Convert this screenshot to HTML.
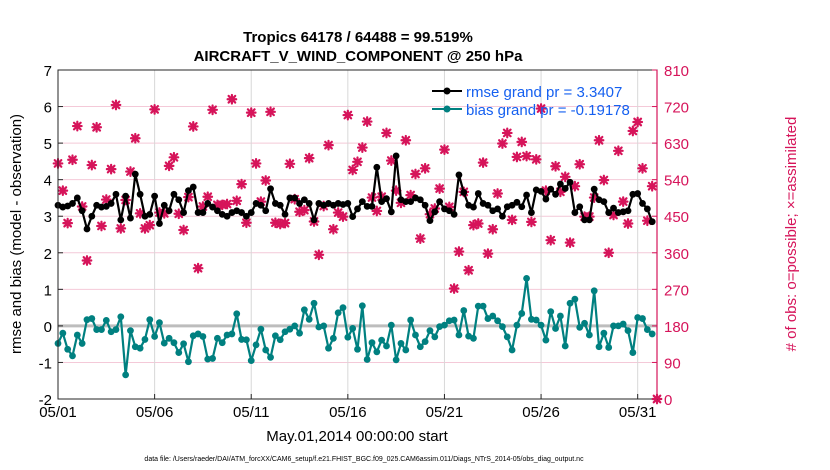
<!DOCTYPE html>
<html><head><meta charset="utf-8"><style>
body{margin:0;background:#fff;font-family:"Liberation Sans",sans-serif}
svg{display:block}
</style></head><body>
<svg id="chart" width="830" height="470" viewBox="0 0 830 470" font-family="Liberation Sans, sans-serif">
<text x="358" y="42" text-anchor="middle" font-size="15" font-weight="bold">Tropics 64178 / 64488 = 99.519%</text>
<text x="358" y="61" text-anchor="middle" font-size="15" font-weight="bold">AIRCRAFT_V_WIND_COMPONENT @ 250 hPa</text>
<g id="grid"></g>
<g id="marks"></g>
<g id="axes"></g>
<text transform="translate(21,234) rotate(-90)" text-anchor="middle" font-size="15">rmse and bias (model - observation)</text>
<text transform="translate(796,234) rotate(-90)" text-anchor="middle" font-size="15" fill="#d6145a"># of obs: o=possible; ×=assimilated</text>
<text x="357" y="441" text-anchor="middle" font-size="15">May.01,2014 00:00:00 start</text>
<text x="364" y="461" text-anchor="middle" font-size="7">data file: /Users/raeder/DAI/ATM_forcXX/CAM6_setup/f.e21.FHIST_BGC.f09_025.CAM6assim.011/Diags_NTrS_2014-05/obs_diag_output.nc</text>
<g>
<line x1="432" y1="91" x2="462" y2="91" stroke="#000" stroke-width="2"/><circle cx="447" cy="91" r="3.5" fill="#000"/>
<text x="466" y="97" font-size="15" fill="#1560f0">rmse grand pr = 3.3407</text>
<line x1="432" y1="109" x2="462" y2="109" stroke="#008080" stroke-width="2"/><circle cx="447" cy="109" r="3.5" fill="#008080"/>
<text x="466" y="115" font-size="15" fill="#1560f0">bias grand pr = -0.19178</text>
</g>
</svg>
<script>
const xTickLabels=["05/01","05/06","05/11","05/16","05/21","05/26","05/31"];
const xTickDays=[0,5,10,15,20,25,30];
const yTicks=[-2,-1,0,1,2,3,4,5,6,7];
const rTicks=[0,90,180,270,360,450,540,630,720,810];
const rmse=[3.3,3.25,3.28,3.35,3.5,3.15,2.65,3.0,3.3,3.25,3.27,3.35,3.6,2.9,3.55,2.95,4.15,3.6,3.0,3.05,
3.55,2.8,3.3,3.15,3.6,3.45,3.1,3.7,3.8,3.1,3.1,3.35,3.25,3.15,3.05,3.0,3.1,3.15,3.1,3.0,
3.1,3.35,3.3,3.15,3.75,3.35,3.3,3.05,3.5,3.5,3.35,3.45,3.35,2.9,3.35,3.3,3.35,3.3,3.35,3.32,
3.35,2.99,3.2,3.4,3.27,3.27,4.34,3.4,3.48,3.12,4.65,3.45,3.4,3.4,3.5,3.45,3.3,2.88,3.12,3.4,
3.2,3.15,3.05,4.13,3.65,3.3,3.25,3.62,3.35,3.3,3.15,3.2,3.0,3.26,
3.3,3.38,3.26,3.58,3.1,3.72,3.68,3.47,3.74,3.6,3.88,3.76,3.93,3.1,3.26,2.9,2.9,3.74,3.45,3.4,
3.1,3.22,3.1,3.12,3.15,3.6,3.62,3.35,3.2,2.85];
const bias=[-0.48,-0.2,-0.64,-0.82,-0.25,-0.48,0.17,0.2,-0.1,-0.1,0.15,-0.16,-0.1,0.25,-1.34,-0.13,-0.57,-0.61,-0.37,0.17,
-0.29,0.09,-0.47,-0.34,-0.46,-0.73,-0.49,-0.98,-0.27,-0.22,-0.29,-0.91,-0.89,-0.34,-0.46,-0.25,-0.22,0.33,-0.37,-0.38,
-0.95,-0.52,-0.09,-0.66,-0.86,-0.27,-0.38,-0.16,-0.09,0.0,-0.2,0.44,0.18,0.62,-0.03,0.0,-0.61,-0.34,0.36,0.5,
-0.31,-0.07,-0.64,0.55,-0.92,-0.46,-0.71,-0.39,-0.55,0.02,-0.93,-0.48,-0.66,0.16,-0.25,-0.57,-0.43,-0.13,-0.30,-0.02,
0.02,0.14,0.16,-0.25,0.42,-0.28,-0.34,0.54,0.54,0.2,0.27,0.14,-0.02,-0.3,
-0.66,0.02,0.34,1.3,0.18,0.16,0.02,-0.39,0.39,-0.07,0.27,-0.55,0.62,0.73,-0.04,0.07,-0.25,0.96,-0.57,-0.2,
-0.59,0.0,0.0,0.05,-0.13,-0.73,0.23,0.2,-0.1,-0.22];
const obsCount=[580,513,433,589,672,474,341,576,669,426,491,566,724,420,490,560,642,457,420,428,
713,459,457,574,595,456,416,497,671,322,474,498,712,478,478,480,738,488,529,434,
705,580,486,538,707,434,431,433,579,492,461,465,593,437,355,475,625,418,459,449,
699,564,584,619,683,496,463,498,655,587,513,483,637,502,554,395,568,455,469,518,
614,473,272,363,510,317,428,432,582,358,418,506,629,655,
441,596,633,598,436,590,715,513,391,573,510,547,385,524,578,449,449,496,637,539,
360,453,611,486,432,660,682,568,439,524,0];
const L=58,R=657,T=70,B=399,NS="http://www.w3.org/2000/svg";
const xPos=t=>L+t*(R-L)/124;
const yPos=v=>B-(v+2)*(B-T)/9;
const rPos=c=>B-c*(B-T)/810;
function mk(tag,attrs,parent){const e=document.createElementNS(NS,tag);for(const k in attrs)e.setAttribute(k,attrs[k]);parent.appendChild(e);return e;}
const grid=document.getElementById('grid'),marks=document.getElementById('marks'),axes=document.getElementById('axes');
mk('rect',{x:L,y:T,width:R-L,height:B-T,fill:'#fff'},grid);
yTicks.forEach(v=>{if(v>-2&&v<7){const g=mk('line',{x1:L,x2:R,y1:yPos(v),y2:yPos(v),stroke:'#f4c9d8','stroke-width':1},grid);

}});
xTickDays.forEach(d=>{if(d>0){const g=mk('line',{x1:xPos(d*4),x2:xPos(d*4),y1:T,y2:B,stroke:'#d8d8d8','stroke-width':1},grid);

}});
const zl=mk('line',{x1:L,x2:R,y1:yPos(0),y2:yPos(0),stroke:'#bdbdbd','stroke-width':3},grid);


obsCount.forEach((c,i)=>{const x=xPos(i),y=rPos(c),s=3.3;
const g=mk('g',{stroke:'#d6145a','stroke-width':2.2,'stroke-linecap':'round'},marks);


mk('path',{d:`M${x-s} ${y-s}L${x+s} ${y+s}M${x-s} ${y+s}L${x+s} ${y-s}M${x} ${y-s-1}L${x} ${y+s+1}M${x-s-1} ${y}L${x+s+1} ${y}`},g);});
function series(vals,color,name){
const p=mk('polyline',{points:vals.map((v,i)=>xPos(i)+','+yPos(v)).join(' '),fill:'none',stroke:color,'stroke-width':2.2,'stroke-linejoin':'round'},marks);


vals.forEach((v,i)=>{const c=mk('circle',{cx:xPos(i),cy:yPos(v),r:3.4,fill:color},marks);

});}
series(rmse,'#000','rmse');
series(bias,'#008080','bias');
mk('rect',{x:L,y:T,width:R-L,height:B-T,fill:'none',stroke:'#262626','stroke-width':1},axes);
mk('line',{x1:R,x2:R,y1:T,y2:B,stroke:'#d6145a','stroke-width':1.2},axes);
yTicks.forEach(v=>{const y=yPos(v);mk('line',{x1:L,x2:L+5,y1:y,y2:y,stroke:'#262626'},axes);
const t=mk('text',{x:L-6,y:y+6,'text-anchor':'end','font-size':15},axes);t.textContent=v;

});
rTicks.forEach(c=>{const y=rPos(c);mk('line',{x1:R-5,x2:R,y1:y,y2:y,stroke:'#d6145a'},axes);
const t=mk('text',{x:R+7,y:y+6,'font-size':15,fill:'#d6145a'},axes);t.textContent=c;

});
xTickDays.forEach((d,i)=>{const x=xPos(d*4);mk('line',{x1:x,x2:x,y1:B-5,y2:B,stroke:'#262626'},axes);
const t=mk('text',{x:x,y:B+18,'text-anchor':'middle','font-size':15},axes);t.textContent=xTickLabels[i];

});
</script>
</body></html>
